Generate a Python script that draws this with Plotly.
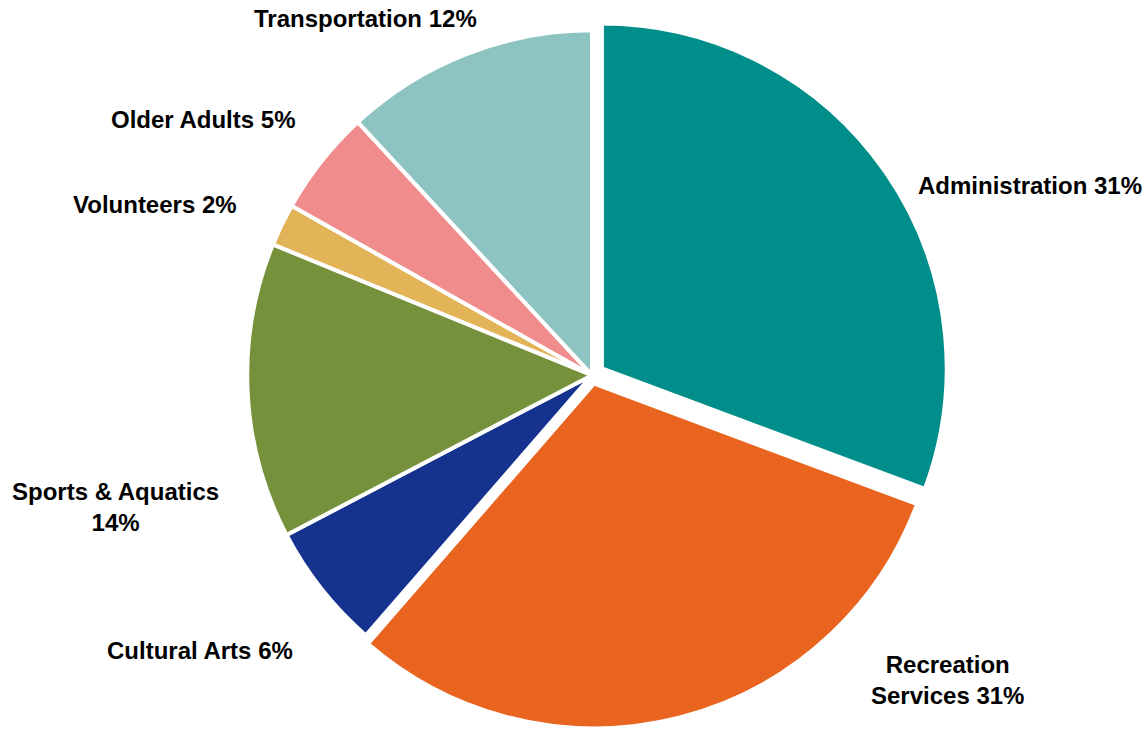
import plotly.graph_objects as go

# Budget share by program area
categories = ["Administration", "Recreation Services", "Cultural Arts",
              "Sports & Aquatics", "Volunteers", "Older Adults", "Transportation"]
shares = [31, 31, 6, 14, 2, 5, 12]
colors = ["#008E8A", "#E8641F", "#15338E", "#76913C", "#E2B457", "#F08C8C", "#8DC4C2"]
pulls = [0.035, 0.025, 0, 0, 0, 0, 0]

# label text and placement (paper coords) for each slice
label_lines = [["Administration"], ["Recreation", "Services"], ["Cultural Arts"],
               ["Sports & Aquatics", ""], ["Volunteers"], ["Older Adults"], ["Transportation"]]
label_pos = [(1030, 186), (947, 680), (200, 650), (115, 507), (155, 205), (203, 120), (365, 18)]

W, H = 1144, 732

fig = go.Figure(go.Pie(
    labels=categories,
    values=shares,
    sort=False,
    direction="clockwise",
    rotation=0,
    pull=pulls,
    marker=dict(colors=colors, line=dict(color="white", width=4)),
    textinfo="none",
    hoverinfo="label+value",
    showlegend=False,
    domain=dict(x=[(592 - 362) / W, (592 + 362) / W], y=[0.0, 0.975]),
))

annotations = []
for lines, share, (px, py) in zip(label_lines, shares, label_pos):
    if lines[-1] == "":
        text = "<br>".join(lines[:-1]) + f"<br>{share}%"
    else:
        text = "<br>".join(lines[:-1] + [f"{lines[-1]} {share}%"])
    annotations.append(dict(
        x=px / W, y=1 - py / H, xref="paper", yref="paper",
        text=f"<b>{text}</b>", showarrow=False, align="center",
        xanchor="center", yanchor="middle",
        font=dict(family="Liberation Sans, Arial, sans-serif", size=24, color="black"),
    ))

fig.update_layout(
    width=W, height=H,
    margin=dict(l=0, r=0, t=0, b=0),
    paper_bgcolor="white",
    plot_bgcolor="white",
    annotations=annotations,
)

fig.write_html("out.html")
